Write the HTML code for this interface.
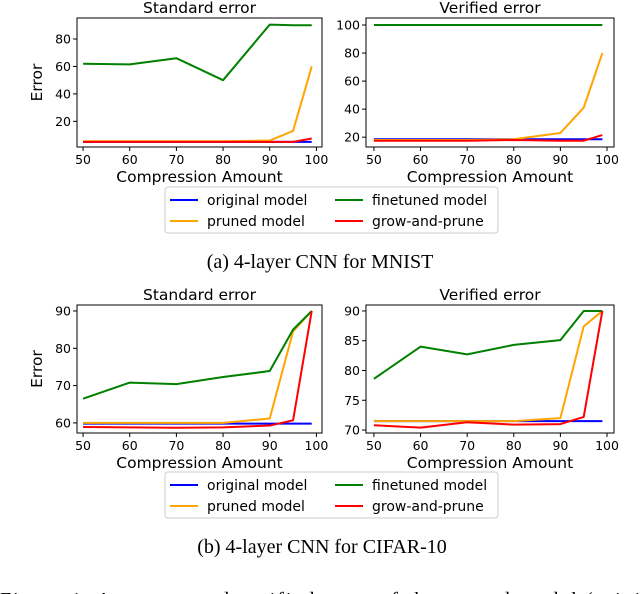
<!DOCTYPE html>
<html><head><meta charset="utf-8"><style>
html,body{margin:0;padding:0;background:#fff;width:640px;height:594px;overflow:hidden}
svg{display:block}
</style></head><body>
<svg id="fig" width="640" height="594" xmlns="http://www.w3.org/2000/svg" font-family="'DejaVu Sans', sans-serif"></svg>
<script>
const xValues = [50, 60, 70, 80, 90, 95, 99];
const xTicks = [50, 60, 70, 80, 90, 100];
const seriesNames = ["original model", "pruned model", "finetuned model", "grow-and-prune"];
const seriesColors = ["#0000ff", "#ffa500", "#008000", "#ff0000"];
// MNIST standard
const mnistStdOriginal = [5, 5, 5, 5, 5, 5, 5];
const mnistStdPruned = [5.5, 5.5, 5.5, 5.5, 6, 13, 60];
const mnistStdFinetuned = [62, 61.5, 66, 50, 90.5, 90, 90];
const mnistStdGrow = [5, 5, 5, 5, 5, 5, 7.5];
// MNIST verified
const mnistVerOriginal = [18.5, 18.5, 18.5, 18.5, 18.5, 18.5, 18.5];
const mnistVerPruned = [18, 18, 18, 18.5, 23, 41, 80];
const mnistVerFinetuned = [100, 100, 100, 100, 100, 100, 100];
const mnistVerGrow = [17.5, 17.5, 17.5, 18, 17.5, 17.5, 21.5];
// CIFAR standard
const cifarStdOriginal = [59.8, 59.8, 59.8, 59.8, 59.8, 59.8, 59.8];
const cifarStdPruned = [60, 60, 60, 60, 61.2, 84.5, 90];
const cifarStdFinetuned = [66.5, 70.8, 70.4, 72.3, 73.9, 85, 90];
const cifarStdGrow = [58.9, 58.8, 58.7, 58.8, 59.3, 60.7, 90];
// CIFAR verified
const cifarVerOriginal = [71.5, 71.5, 71.5, 71.5, 71.5, 71.5, 71.5];
const cifarVerPruned = [71.5, 71.5, 71.5, 71.5, 72, 87.4, 90];
const cifarVerFinetuned = [78.6, 84, 82.7, 84.3, 85.1, 90, 90];
const cifarVerGrow = [70.8, 70.4, 71.3, 70.9, 71.0, 72.2, 90];

const yTicksMS = [20, 40, 60, 80];
const yTicksMV = [20, 40, 60, 80, 100];
const yTicksCS = [60, 70, 80, 90];
const yTicksCV = [70, 75, 80, 85, 90];

const NS = "http://www.w3.org/2000/svg";
const svg = document.getElementById("fig");
function mk(tag, attrs, parent, text) {
  const e = document.createElementNS(NS, tag);
  for (const k in attrs) e.setAttribute(k, attrs[k]);
  if (text !== undefined) e.textContent = text;
  (parent || svg).appendChild(e);
  return e;
}

function panel(name, box, xDom, yDom, yTicks, series, title, ylabel) {
  const g = mk("g", {});
  
  
  const [x0, y0, x1, y1] = box;
  const sx = v => x0 + (v - xDom[0]) / (xDom[1] - xDom[0]) * (x1 - x0);
  const sy = v => y1 - (v - yDom[0]) / (yDom[1] - yDom[0]) * (y1 - y0);
  const t = mk("text", {x: (x0 + x1) / 2, y: y0 - 5, "text-anchor": "middle", "font-size": 15.5}, g, title);
  
  
  series.forEach((s, i) => {
    const pts = xValues.map((x, j) => sx(x).toFixed(2) + "," + sy(s[j]).toFixed(2)).join(" ");
    const pl = mk("polyline", {points: pts, fill: "none", stroke: seriesColors[i], "stroke-width": 2, "stroke-linejoin": "round"}, g);
    
    
  });
  mk("rect", {x: x0, y: y0, width: x1 - x0, height: y1 - y0, fill: "none", stroke: "#000", "stroke-width": 1}, g);
  xTicks.forEach(v => {
    mk("line", {x1: sx(v), x2: sx(v), y1: y1, y2: y1 + 4, stroke: "#000"}, g);
    const tl = mk("text", {x: sx(v), y: y1 + 17, "text-anchor": "middle", "font-size": 12.5}, g, v);
    
    
  });
  yTicks.forEach(v => {
    mk("line", {x1: x0 - 4, x2: x0, y1: sy(v), y2: sy(v), stroke: "#000"}, g);
    const tl = mk("text", {x: x0 - 6, y: sy(v) + 4.5, "text-anchor": "end", "font-size": 12.5}, g, v);
    
    
  });
  const xl = mk("text", {x: (x0 + x1) / 2, y: y1 + 35, "text-anchor": "middle", "font-size": 15.5}, g, "Compression Amount");
  
  
  if (ylabel) {
    const yl = mk("text", {x: 0, y: 0, "text-anchor": "middle", "font-size": 15.5, transform: `translate(${x0 - 35},${(y0 + y1) / 2}) rotate(-90)`}, g, "Error");
    
    
  }
}

function legend(name, x, y) {
  const g = mk("g", {});
  
  
  mk("rect", {x: x, y: y, width: 333, height: 46, rx: 3, fill: "#fff", stroke: "#ccc"}, g);
  const pos = [[x + 5, y + 13], [x + 5, y + 34], [x + 170, y + 13], [x + 170, y + 34]];
  seriesNames.forEach((n, i) => {
    const [px, py] = pos[i];
    mk("line", {x1: px, x2: px + 28, y1: py, y2: py, stroke: seriesColors[i], "stroke-width": 2}, g);
    const tx = mk("text", {x: px + 37, y: py + 5, "font-size": 14}, g, n);
    
    
  });
}

panel("mnist-standard-error", [77, 18, 322, 147], [48.7, 101.2], [1.3, 95.3], yTicksMS,
  [mnistStdOriginal, mnistStdPruned, mnistStdFinetuned, mnistStdGrow], "Standard error", true);
panel("mnist-verified-error", [366, 18, 614, 147], [48.3, 101.5], [13, 105], yTicksMV,
  [mnistVerOriginal, mnistVerPruned, mnistVerFinetuned, mnistVerGrow], "Verified error", false);
legend("mnist-legend", 165, 187);
const c1 = mk("text", {x: 320, y: 268, "text-anchor": "middle", "font-size": 20, "font-family": "'Liberation Serif', serif"}, svg, "(a) 4-layer CNN for MNIST");



panel("cifar-standard-error", [77, 305, 322, 433], [48.7, 101.2], [57.3, 91.6], yTicksCS,
  [cifarStdOriginal, cifarStdPruned, cifarStdFinetuned, cifarStdGrow], "Standard error", true);
panel("cifar-verified-error", [366, 305, 614, 433], [48.3, 101.5], [69.5, 91], yTicksCV,
  [cifarVerOriginal, cifarVerPruned, cifarVerFinetuned, cifarVerGrow], "Verified error", false);
legend("cifar-legend", 165, 472);
const c2 = mk("text", {x: 322, y: 553, "text-anchor": "middle", "font-size": 20, "font-family": "'Liberation Serif', serif"}, svg, "(b) 4-layer CNN for CIFAR-10");


const c3 = mk("text", {x: 0, y: 606, "font-size": 20, "font-family": "'Liberation Serif', serif", "letter-spacing": "2"}, svg, "Figure 1: Accuracy and verified error of the pruned model (original)");


</script>
</body></html>
